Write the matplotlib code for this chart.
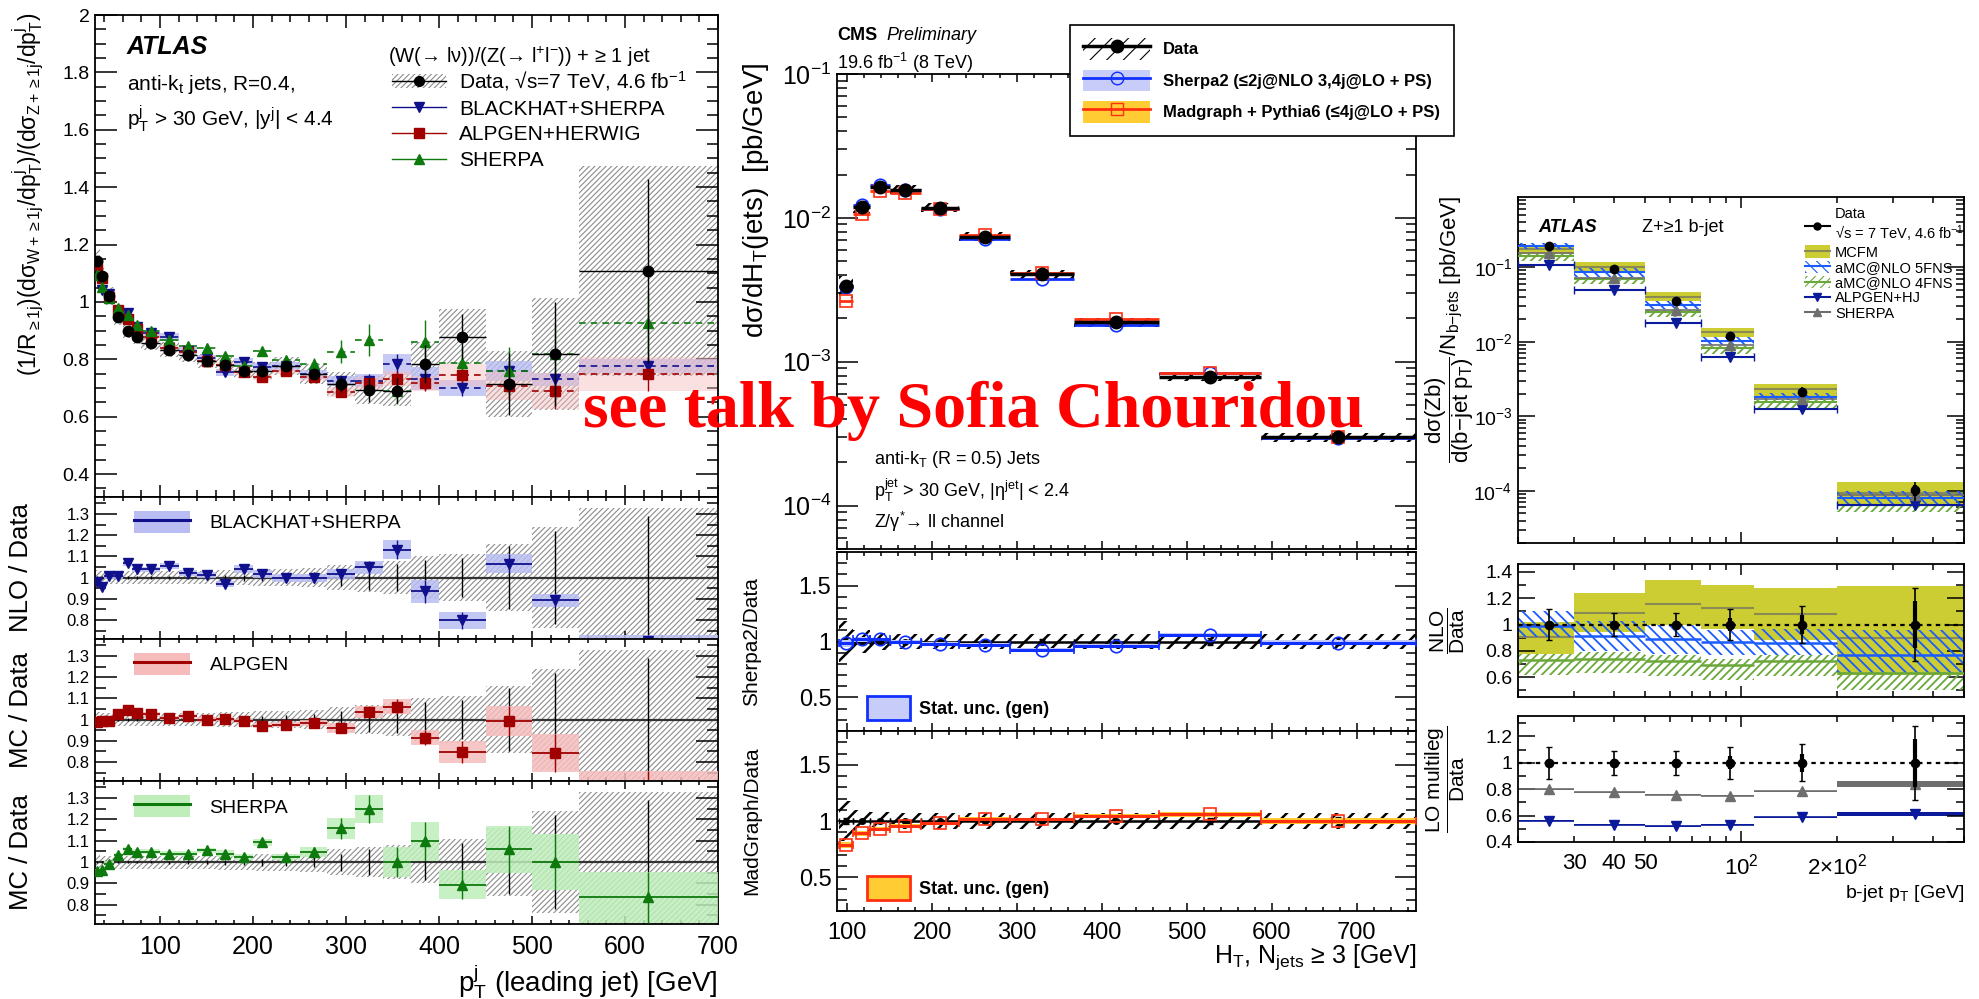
import numpy as np
import matplotlib
matplotlib.use("Agg")
import matplotlib.pyplot as plt
from matplotlib.patches import Patch
from matplotlib.lines import Line2D
from matplotlib.ticker import MultipleLocator, FormatStrFormatter, LogLocator, NullFormatter

plt.rcParams['font.family'] = ['Liberation Sans', 'DejaVu Sans']
plt.rcParams['mathtext.fontset'] = 'custom'
plt.rcParams['mathtext.rm'] = 'Liberation Sans'
plt.rcParams['mathtext.it'] = 'Liberation Sans:italic'
plt.rcParams['mathtext.bf'] = 'Liberation Sans:bold'
plt.rcParams['mathtext.default'] = 'regular'

# ---- W/Z + jets ratio vs leading jet pT ----
w_edges = [30, 35, 40, 50, 60, 70, 80, 100, 120, 140, 160, 180, 200, 220, 250,
           280, 310, 340, 370, 400, 450, 500, 550, 700]
w_data = [1.143, 1.091, 1.021, 0.949, 0.900, 0.879, 0.858, 0.834, 0.814, 0.794, 0.779, 0.760,
          0.760, 0.777, 0.749, 0.714, 0.693, 0.691, 0.783, 0.879, 0.714, 0.818, 1.108]
w_stat = [0.005, 0.005, 0.005, 0.005, 0.005, 0.006, 0.006, 0.007, 0.008, 0.010, 0.012, 0.014,
          0.016, 0.020, 0.025, 0.040, 0.060, 0.065, 0.085, 0.090, 0.150, 0.220, 0.290]
w_sys = [0.035, 0.03, 0.03, 0.03, 0.03, 0.03, 0.03, 0.03, 0.03, 0.03, 0.035, 0.035,
         0.04, 0.04, 0.045, 0.06, 0.07, 0.08, 0.10, 0.11, 0.16, 0.24, 0.33]
bh_main = [1.120, 1.043, 1.026, 0.954, 0.961, 0.914, 0.892, 0.878, 0.830, 0.804, 0.754, 0.790,
           0.772, 0.775, 0.747, 0.725, 0.726, 0.782, 0.732, 0.701, 0.760, 0.730, 0.776]
bh_ratio = [0.980, 0.956, 1.005, 1.005, 1.068, 1.040, 1.040, 1.053, 1.020, 1.013, 0.968, 1.040,
            1.016, 0.997, 0.997, 1.016, 1.048, 1.132, 0.935, 0.798, 1.065, 0.892, 0.700]
bh_unc = [0.01, 0.01, 0.01, 0.01, 0.012, 0.012, 0.012, 0.015, 0.015, 0.015, 0.015, 0.02,
          0.02, 0.02, 0.02, 0.025, 0.03, 0.045, 0.055, 0.04, 0.045, 0.03, 0.03]
alp_main = [1.128, 1.082, 1.016, 0.972, 0.940, 0.906, 0.879, 0.841, 0.827, 0.794, 0.781, 0.754,
            0.738, 0.758, 0.737, 0.685, 0.717, 0.732, 0.716, 0.745, 0.708, 0.689, 0.748]
alp_ratio = [0.987, 0.992, 0.995, 1.024, 1.044, 1.031, 1.024, 1.008, 1.016, 1.000, 1.003, 0.992,
             0.971, 0.976, 0.984, 0.960, 1.035, 1.060, 0.915, 0.847, 0.992, 0.842, 0.675]
alp_unc = [0.01, 0.01, 0.01, 0.01, 0.01, 0.01, 0.01, 0.01, 0.01, 0.01, 0.01, 0.01,
           0.012, 0.012, 0.015, 0.025, 0.03, 0.035, 0.035, 0.05, 0.07, 0.09, 0.08]
sh_main = [1.093, 1.053, 1.013, 0.979, 0.955, 0.921, 0.899, 0.867, 0.847, 0.838, 0.810, 0.778,
           0.830, 0.796, 0.785, 0.827, 0.866, 0.691, 0.859, 0.787, 0.758, 0.818, 0.925]
sh_ratio = [0.956, 0.965, 0.992, 1.032, 1.061, 1.048, 1.048, 1.040, 1.040, 1.056, 1.040, 1.024,
            1.092, 1.024, 1.048, 1.158, 1.250, 1.000, 1.097, 0.895, 1.061, 1.000, 0.835]
sh_unc = [0.012, 0.012, 0.012, 0.012, 0.012, 0.012, 0.012, 0.012, 0.012, 0.012, 0.015, 0.015,
          0.015, 0.015, 0.025, 0.05, 0.065, 0.07, 0.09, 0.07, 0.11, 0.13, 0.12]

# ---- CMS Z + >=3 jets, HT ----
ht_edges = [90, 107, 127, 150, 187, 232, 292, 367, 467, 587, 770]
ht_data = [3.36e-3, 1.20e-2, 1.65e-2, 1.57e-2, 1.18e-2, 7.40e-3, 4.06e-3, 1.89e-3, 7.87e-4, 2.99e-4]
ht_stat = [0.03, 0.02, 0.015, 0.015, 0.015, 0.015, 0.02, 0.02, 0.03, 0.035]
ht_sys = [0.18, 0.10, 0.08, 0.07, 0.07, 0.07, 0.07, 0.07, 0.07, 0.07]
sherpa2_main = [3.31e-3, 1.224e-2, 1.683e-2, 1.57e-2, 1.156e-2, 7.18e-3, 3.76e-3, 1.81e-3, 8.34e-4, 2.96e-4]
madgraph_main = [2.64e-3, 1.068e-2, 1.535e-2, 1.50e-2, 1.156e-2, 7.55e-3, 4.12e-3, 1.975e-3, 8.34e-4, 2.99e-4]
sherpa2_ratio = [0.985, 1.02, 1.02, 1.0, 0.98, 0.97, 0.926, 0.96, 1.06, 0.99]
madgraph_ratio = [0.787, 0.89, 0.93, 0.955, 0.98, 1.02, 1.015, 1.045, 1.06, 1.0]
gen_unc = [0.03, 0.02, 0.015, 0.015, 0.015, 0.015, 0.015, 0.02, 0.02, 0.025]

# ---- ATLAS Z + b-jet, b-jet pT ----
bpt_edges = [20, 30, 50, 75, 110, 200, 500]
zb_data = [0.193, 0.093, 0.0347, 0.0119, 2.14e-3, 1.03e-4]
zb_tot = [0.12, 0.09, 0.09, 0.12, 0.14, 0.28]
zb_stat = [0.02, 0.03, 0.03, 0.05, 0.07, 0.18]
mcfm_main = [0.175, 0.101, 0.0403, 0.0134, 2.31e-3, 9.3e-5]
amc5_main = [0.191, 0.085, 0.0309, 0.0103, 1.84e-3, 7.9e-5]
amc4_main = [0.141, 0.0688, 0.025, 8.2e-3, 1.54e-3, 6.5e-5]
alphj_main = [0.108, 0.0493, 0.018, 6.3e-3, 1.25e-3, 6.4e-5]
shzb_main = [0.154, 0.072, 0.0264, 8.9e-3, 1.68e-3, 8.7e-5]
mcfm_ratio = [0.906, 1.09, 1.16, 1.127, 1.08, 0.90]
mcfm_lo = [0.78, 0.94, 1.0, 0.97, 0.88, 0.62]
mcfm_hi = [1.02, 1.24, 1.34, 1.30, 1.28, 1.29]
amc5_ratio = [0.99, 0.914, 0.89, 0.866, 0.86, 0.77]
amc5_lo = [0.906, 0.80, 0.78, 0.77, 0.77, 0.63]
amc5_hi = [1.10, 1.03, 1.0, 0.96, 0.97, 0.96]
amc4_ratio = [0.73, 0.74, 0.72, 0.69, 0.72, 0.63]
amc4_lo = [0.62, 0.63, 0.61, 0.58, 0.61, 0.50]
amc4_hi = [0.78, 0.79, 0.77, 0.74, 0.77, 0.64]
alphj_ratio = [0.56, 0.53, 0.52, 0.53, 0.586, 0.615]
alphj_unc = [0.004, 0.004, 0.004, 0.004, 0.006, 0.015]
shzb_ratio = [0.80, 0.776, 0.76, 0.75, 0.784, 0.84]
shzb_unc = [0.004, 0.004, 0.004, 0.004, 0.006, 0.022]

W, H = 1979, 999
fig = plt.figure(figsize=(W / 100, H / 100), dpi=100)


def place(x0, y0, x1, y1):
    return fig.add_axes([x0 / W, 1 - y1 / H, (x1 - x0) / W, (y1 - y0) / H])


def root_ticks(ax, ylen=(16, 8), xlen=(8, 4), xsize=18, ysize=14):
    ax.minorticks_on()
    ax.tick_params(which='both', direction='in', top=True, right=True, width=1.1)
    ax.tick_params(axis='y', which='major', length=ylen[0], labelsize=ysize, pad=4)
    ax.tick_params(axis='y', which='minor', length=ylen[1])
    ax.tick_params(axis='x', which='major', length=xlen[0], labelsize=xsize, pad=8)
    ax.tick_params(axis='x', which='minor', length=xlen[1])
    for s in ax.spines.values():
        s.set_linewidth(1.3)


def boxes(ax, edges, lo, hi, **kw):
    e = np.asarray(edges, float)
    lo = np.asarray(lo, float)
    hi = np.asarray(hi, float)
    lw_h = kw.pop('hatch_lw', None)
    bars = ax.bar(e[:-1], hi - lo, bottom=lo, width=np.diff(e), align='edge', **kw)
    if lw_h is not None:
        for p in bars:
            if hasattr(p, 'set_hatch_linewidth'):
                p.set_hatch_linewidth(lw_h)
    return bars


def hatch_patch(color, hatch, lw_h, **kw):
    p = Patch(facecolor=kw.pop('fc', 'none'), edgecolor=color, hatch=hatch, lw=0, **kw)
    if hasattr(p, 'set_hatch_linewidth'):
        p.set_hatch_linewidth(lw_h)
    return p


# ===================== left block =====================
plt.rcParams['hatch.linewidth'] = 0.8
we = np.array(w_edges, float)
wl, wr = we[:-1], we[1:]
wc = (wl + wr) / 2
wd = np.array(w_data)
navy, dred, dgreen = '#10108c', '#a00000', '#0e7a0e'
band_b, band_r, band_g = '#b9bdf2', '#f6bcbc', '#bfeebb'

axL = place(95, 15, 718, 497)
axL1 = place(95, 497, 718, 639)
axL2 = place(95, 639, 718, 781)
axL3 = place(95, 781, 718, 924)

ws = np.array(w_sys)
boxes(axL, w_edges, wd * (1 - ws), wd * (1 + ws), fc='none', ec='#8c8c8c',
      hatch='//////', lw=0, zorder=1, hatch_lw=0.8)
# only the NLO prediction carries a clear band in the top panel
bv, bu = np.array(bh_main), np.array(bh_unc)
boxes(axL, w_edges, bv * (1 - bu), bv * (1 + bu), color=band_b, alpha=0.8, lw=0, zorder=2)
av, au = np.array(alp_main), np.array(alp_unc)
boxes(axL, w_edges, av * (1 - au), av * (1 + au), color=band_r, alpha=0.45, lw=0, zorder=2)
for vals, unc, col, mk in [(bh_main, bh_unc, navy, 'v'),
                           (alp_main, alp_unc, dred, 's'),
                           (sh_main, sh_unc, dgreen, '^')]:
    v = np.array(vals)
    u = np.array(unc)
    axL.hlines(v, wl, wr, colors=col, linestyles=(0, (4, 3)), lw=1.2, zorder=3)
    axL.errorbar(wc, v, yerr=v * u, fmt=mk, color=col, ms=7, lw=1, zorder=4)
axL.errorbar(wc, wd, yerr=wd * np.array(w_stat), xerr=(wr - wl) / 2, fmt='o', color='k',
             ms=7.5, lw=1, zorder=5)
axL.set_xlim(30, 700)
axL.set_ylim(0.32, 2.0)
root_ticks(axL, ylen=(16, 8), xlen=(9, 5))
axL.xaxis.set_major_locator(MultipleLocator(100))
axL.xaxis.set_minor_locator(MultipleLocator(20))
axL.yaxis.set_major_locator(MultipleLocator(0.2))
axL.yaxis.set_minor_locator(MultipleLocator(0.05))
axL.yaxis.set_major_formatter(FormatStrFormatter('%g'))
axL.tick_params(axis='x', labelbottom=False)
axL.set_ylabel(r'$(1/R_{\geq 1j})(d\sigma_{W+\geq 1j}/dp_{T}^{j})/(d\sigma_{Z+\geq 1j}/dp_{T}^{j})$',
               fontsize=16.5)
axL.yaxis.set_label_coords(-0.080, 0.627)

axL.text(0.05, 0.933, 'ATLAS', transform=axL.transAxes, fontsize=18, fontweight='bold',
         fontstyle='italic', va='center')
axL.text(0.051, 0.855, r'anti-k$_{t}$ jets, R=0.4,', transform=axL.transAxes, fontsize=15, va='center')
axL.text(0.051, 0.786, r'p$_{T}^{j}$ > 30 GeV, |y$^{j}$| < 4.4', transform=axL.transAxes,
         fontsize=15, va='center')
axL.text(0.47, 0.913, '(W(\u2192 l\u03bd))/(Z(\u2192 l$^{+}$l$^{-}$)) + \u2265 1 jet',
         transform=axL.transAxes, fontsize=14.5, va='center')
h_data = (hatch_patch('#8c8c8c', '//////', 0.8), Line2D([], [], color='k', marker='o', ms=7, lw=1))
h_bh = Line2D([], [], color=navy, marker='v', ms=7, lw=1)
h_alp = Line2D([], [], color=dred, marker='s', ms=7, lw=1)
h_sh = Line2D([], [], color=dgreen, marker='^', ms=7, lw=1)
axL.legend([h_data, h_bh, h_alp, h_sh],
           ['Data, \u221as=7 TeV, 4.6 fb$^{-1}$', 'BLACKHAT+SHERPA', 'ALPGEN+HERWIG', 'SHERPA'],
           loc='upper left', bbox_to_anchor=(0.477, 0.888), frameon=False, fontsize=15,
           handlelength=2.6, handletextpad=0.6, labelspacing=0.32, borderpad=0, borderaxespad=0)

ratio_sets = [(axL1, bh_ratio, bh_unc, navy, band_b, 'v', 'BLACKHAT+SHERPA', 'NLO / Data'),
              (axL2, alp_ratio, alp_unc, dred, band_r, 's', 'ALPGEN', 'MC / Data'),
              (axL3, sh_ratio, sh_unc, dgreen, band_g, '^', 'SHERPA', 'MC / Data')]
for ax, rat, unc, col, band, mk, lab, ylab in ratio_sets:
    r = np.array(rat)
    u = np.array(unc)
    boxes(ax, w_edges, 1 - ws, 1 + ws, fc='none', ec='#8c8c8c', hatch='//////', lw=0,
          zorder=1, hatch_lw=0.8)
    ax.axhline(1, color='#333333', lw=1.6, zorder=2)
    ax.errorbar(wc, np.ones_like(wc), yerr=w_stat, fmt='none', ecolor='k', lw=1, zorder=2)
    boxes(ax, w_edges, r - u, r + u, color=band, alpha=0.85, lw=0, zorder=3)
    ax.hlines(r, wl, wr, colors=col, lw=1.3, zorder=4)
    ax.errorbar(wc, r, yerr=u, fmt=mk, color=col, ms=7, lw=1, zorder=5)
    ax.set_xlim(30, 700)
    ax.set_ylim(0.71, 1.38)
    root_ticks(ax, ylen=(16, 8), xlen=(6, 3), ysize=12)
    ax.xaxis.set_major_locator(MultipleLocator(100))
    ax.xaxis.set_minor_locator(MultipleLocator(20))
    ax.yaxis.set_major_locator(MultipleLocator(0.1))
    ax.yaxis.set_minor_locator(MultipleLocator(0.05))
    ax.yaxis.set_major_formatter(FormatStrFormatter('%g'))
    ax.set_ylabel(ylab, fontsize=18.5)
    ax.yaxis.set_label_coords(-0.100, 0.5)
    ax.legend([(Patch(fc=band, ec='none'), Line2D([], [], color=col, lw=2.2))], [lab],
              loc='center left', bbox_to_anchor=(0.062, 0.824), frameon=False, fontsize=14,
              handlelength=2.9, handleheight=1.4, handletextpad=1.0, borderpad=0, borderaxespad=0)
axL1.tick_params(axis='x', labelbottom=False)
axL2.tick_params(axis='x', labelbottom=False)
fig.text(718 / W, 1 - 982 / H, r'p$_{T}^{j}$ (leading jet) [GeV]', ha='right', va='center', fontsize=20)

# ===================== middle block =====================
he = np.array(ht_edges, float)
hl, hr = he[:-1], he[1:]
hc = (hl + hr) / 2
hd = np.array(ht_data)
hs = np.array(ht_sys)
blue, orange = '#1030ff', '#ff3010'
band_sb, band_mg = '#c8ccf8', '#ffcc33'

axM = place(837, 74, 1416, 549)
axM1 = place(837, 552, 1416, 731)
axM2 = place(837, 731, 1416, 911)

boxes(axM, ht_edges, hd * (1 - hs), hd * (1 + hs), fc='none', ec='k', hatch='//', lw=0,
      zorder=1, hatch_lw=1.8)
axM.errorbar(hc, sherpa2_main, xerr=(hr - hl) / 2, fmt='o', color=blue, mfc='none', ms=9,
             mew=1.2, lw=2, zorder=3)
axM.errorbar(hc, madgraph_main, xerr=(hr - hl) / 2, fmt='s', color=orange, mfc='none', ms=9,
             mew=1.2, lw=2, zorder=3)
axM.errorbar(hc, hd, yerr=hd * np.array(ht_stat), xerr=(hr - hl) / 2, fmt='o', color='k',
             ms=9, lw=2.5, zorder=4)
axM.set_yscale('log')
axM.set_xlim(88, 770)
axM.set_ylim(5e-5, 0.1)
root_ticks(axM, ylen=(15, 7), xlen=(6, 3), ysize=18)
axM.xaxis.set_major_locator(MultipleLocator(100))
axM.xaxis.set_minor_locator(MultipleLocator(20))
axM.yaxis.set_minor_locator(LogLocator(subs=np.arange(2, 10)))
axM.yaxis.set_minor_formatter(NullFormatter())
axM.tick_params(axis='x', labelbottom=False)
axM.set_ylabel(r'd$\sigma$/dH$_{T}$(jets)  [pb/GeV]', fontsize=20)
axM.yaxis.set_label_coords(-0.114, 0.735)
axM.text(0.064, 0.189, r'anti-k$_{T}$ (R = 0.5) Jets', transform=axM.transAxes, fontsize=13, va='center')
axM.text(0.064, 0.124, r'p$_{T}^{jet}$ > 30 GeV, |$\eta^{jet}$| < 2.4', transform=axM.transAxes,
         fontsize=13, va='center')
axM.text(0.064, 0.057, 'Z/\u03b3$^{*}$\u2192 ll channel', transform=axM.transAxes,
         fontsize=13, va='center')
fig.text(837 / W, 1 - 35 / H, 'CMS', fontsize=13, fontweight='bold', va='center')
fig.text(886 / W, 1 - 35 / H, 'Preliminary', fontsize=13, fontstyle='italic', va='center')
fig.text(837 / W, 1 - 63 / H, r'19.6 fb$^{-1}$ (8 TeV)', fontsize=13, va='center')

h_mdata = (hatch_patch('k', '//', 1.8), Line2D([], [], color='k', marker='o', ms=9, lw=2.5))
h_msh = (Patch(fc=band_sb, ec='none'),
         Line2D([], [], color=blue, marker='o', mfc='none', ms=9, lw=2))
h_mmg = (Patch(fc=band_mg, ec='none'),
         Line2D([], [], color=orange, marker='s', mfc='none', ms=9, lw=2))
leg = fig.legend([h_mdata, h_msh, h_mmg],
                 ['Data', 'Sherpa2 (\u22642j@NLO 3,4j@LO + PS)', 'Madgraph + Pythia6 (\u22644j@LO + PS)'],
                 loc='upper left', bbox_to_anchor=(1070 / W, 1 - 25 / H), frameon=True, fancybox=False,
                 edgecolor='k', framealpha=1, prop={'weight': 'bold', 'size': 12},
                 handlelength=4.0, handleheight=1.6, handletextpad=0.8, labelspacing=0.6,
                 borderpad=0.8, borderaxespad=0)
leg.get_frame().set_linewidth(1.2)

for ax, rat, col, band, mk, ylab in [(axM1, sherpa2_ratio, blue, band_sb, 'o', 'Sherpa2/Data'),
                                     (axM2, madgraph_ratio, orange, band_mg, 's', 'MadGraph/Data')]:
    r = np.array(rat)
    u = np.array(gen_unc)
    boxes(ax, ht_edges, 1 - hs, 1 + hs, fc='none', ec='k', hatch='//', lw=0, zorder=1, hatch_lw=1.8)
    ax.errorbar(hc, np.ones_like(hc), yerr=ht_stat, xerr=(hr - hl) / 2, fmt='o', color='k',
                ms=4, lw=1.8, capsize=2, zorder=2)
    boxes(ax, ht_edges, r - u, r + u, color=band, lw=0, zorder=3)
    ax.errorbar(hc, r, xerr=(hr - hl) / 2, fmt=mk, color=col, mfc='none', ms=9, mew=1.2,
                lw=2.2, capsize=3, zorder=4)
    ax.set_xlim(88, 770)
    ax.set_ylim(0.2, 1.8)
    root_ticks(ax, ylen=(15, 7), xlen=(6, 3), ysize=17, xsize=17)
    ax.xaxis.set_major_locator(MultipleLocator(100))
    ax.xaxis.set_minor_locator(MultipleLocator(20))
    ax.yaxis.set_major_locator(MultipleLocator(0.5))
    ax.yaxis.set_minor_locator(MultipleLocator(0.1))
    ax.yaxis.set_major_formatter(FormatStrFormatter('%g'))
    ax.set_ylabel(ylab, fontsize=15)
    ax.yaxis.set_label_coords(-0.131, 0.5)
    ax.legend([Patch(fc=band, ec=col, lw=2)], ['Stat. unc. (gen)'], loc='center left',
              bbox_to_anchor=(0.052, 0.128), frameon=False, prop={'weight': 'bold', 'size': 13},
              handlelength=2.4, handleheight=1.6, handletextpad=0.5, borderpad=0, borderaxespad=0)
axM1.tick_params(axis='x', labelbottom=False)
fig.text(1416 / W, 1 - 957 / H, 'H$_{T}$, N$_{jets}$ \u2265 3 [GeV]', ha='right', va='center', fontsize=18)

# ===================== right block =====================
be = np.array(bpt_edges, float)
bl, br = be[:-1], be[1:]
bc = (bl + br) / 2
bd = np.array(zb_data)
olive, olive_ln = '#cccc33', '#8a8a55'
amc5c, amc4c, ahj, grey = '#1a5cff', '#6aa83a', '#0a1a9a', '#6e6e6e'

axR = place(1518, 197, 1964, 543)
axR1 = place(1518, 564, 1964, 697)
axR2 = place(1518, 716, 1964, 842)

boxes(axR, bpt_edges, bd * np.array(mcfm_lo), bd * np.array(mcfm_hi), color=olive, lw=0, zorder=1)
axR.hlines(mcfm_main, bl, br, colors=olive_ln, lw=1.5, zorder=2)
boxes(axR, bpt_edges, bd * np.array(amc5_lo), bd * np.array(amc5_hi), fc='none', ec=amc5c,
      hatch='\\\\\\', lw=0, zorder=2, hatch_lw=1.3)
axR.hlines(amc5_main, bl, br, colors=amc5c, lw=1.5, zorder=3)
boxes(axR, bpt_edges, bd * np.array(amc4_lo), bd * np.array(amc4_hi), fc='none', ec=amc4c,
      hatch='////', lw=0, zorder=2, hatch_lw=1.3)
axR.hlines(amc4_main, bl, br, colors=amc4c, lw=1.5, zorder=3)
axR.errorbar(bc, alphj_main, xerr=[bc - bl, br - bc], fmt='v', color=ahj, ms=7, lw=1.5,
             capsize=3, zorder=4)
axR.errorbar(bc, shzb_main, xerr=[bc - bl, br - bc], fmt='^', color=grey, ms=7, lw=1.2, zorder=4)
axR.errorbar(bc, bd, yerr=bd * np.array(zb_tot), fmt='o', color='k', ms=6, lw=1.2, zorder=5)
axR.errorbar(bc, bd, yerr=bd * np.array(zb_stat), fmt='none', ecolor='k', lw=3, zorder=5)
axR.set_xscale('log')
axR.set_yscale('log')
axR.set_xlim(20, 500)
axR.set_ylim(2e-5, 0.87)
root_ticks(axR, ylen=(12, 6), xlen=(8, 4), ysize=14)
axR.yaxis.set_minor_locator(LogLocator(subs=np.arange(2, 10)))
axR.yaxis.set_minor_formatter(NullFormatter())
axR.set_ylabel(r'$\dfrac{d\sigma(Zb)}{d(b\mathrm{-}jet\ p_{T})}/N_{b\mathrm{-}jets}$ [pb/GeV]', fontsize=16)
axR.yaxis.set_label_coords(-0.094, 0.616)
axR.text(0.045, 0.913, 'ATLAS', transform=axR.transAxes, fontsize=13, fontweight='bold',
         fontstyle='italic', va='center')
axR.text(0.278, 0.913, 'Z+\u22651 b-jet', transform=axR.transAxes, fontsize=13, va='center')

h_zdata = Line2D([], [], color='k', marker='o', ms=5, lw=1.5)
h_mcfm = (Patch(fc=olive, ec='none'), Line2D([], [], color=olive_ln, lw=1.5))
h_a5 = (hatch_patch(amc5c, '\\\\\\', 1.3), Line2D([], [], color=amc5c, lw=1.5))
h_a4 = (hatch_patch(amc4c, '////', 1.3), Line2D([], [], color=amc4c, lw=1.5))
h_ahj = Line2D([], [], color=ahj, marker='v', ms=6, lw=1.5)
h_shz = Line2D([], [], color=grey, marker='^', ms=6, lw=1.5)
axR.legend([h_zdata, h_mcfm, h_a5, h_a4, h_ahj, h_shz],
           ['Data\n\u221as = 7 TeV, 4.6 fb$^{-1}$', 'MCFM', 'aMC@NLO 5FNS',
            'aMC@NLO 4FNS', 'ALPGEN+HJ', 'SHERPA'],
           loc='upper left', bbox_to_anchor=(1805 / W, 1 - 207 / H), bbox_transform=fig.transFigure,
           frameon=False, fontsize=10.5, handlelength=1.7, handleheight=0.9, handletextpad=0.35,
           labelspacing=0.08, borderpad=0, borderaxespad=0)

dotted = (0, (2, 2))
boxes(axR1, bpt_edges, mcfm_lo, mcfm_hi, color=olive, lw=0, zorder=1)
axR1.hlines(mcfm_ratio, bl, br, colors=olive_ln, lw=1.5, zorder=2)
boxes(axR1, bpt_edges, amc5_lo, amc5_hi, fc='none', ec=amc5c, hatch='\\\\\\', lw=0, zorder=2, hatch_lw=1.3)
axR1.hlines(amc5_ratio, bl, br, colors=amc5c, lw=1.8, zorder=3)
boxes(axR1, bpt_edges, amc4_lo, amc4_hi, fc='none', ec=amc4c, hatch='////', lw=0, zorder=2, hatch_lw=1.3)
axR1.hlines(amc4_ratio, bl, br, colors=amc4c, lw=1.8, zorder=3)

boxes(axR2, bpt_edges, np.array(shzb_ratio) - np.array(shzb_unc),
      np.array(shzb_ratio) + np.array(shzb_unc), color=grey, lw=0, zorder=1)
axR2.hlines(shzb_ratio, bl, br, colors=grey, lw=1.2, zorder=2)
axR2.plot(bc, shzb_ratio, '^', color=grey, ms=7, zorder=3)
boxes(axR2, bpt_edges, np.array(alphj_ratio) - np.array(alphj_unc),
      np.array(alphj_ratio) + np.array(alphj_unc), color=ahj, lw=0, zorder=1)
axR2.hlines(alphj_ratio, bl, br, colors=ahj, lw=1.2, zorder=2)
axR2.plot(bc, alphj_ratio, 'v', color=ahj, ms=7, zorder=3)

for ax, ylim, ylab in [(axR1, (0.45, 1.46), r'$\dfrac{NLO}{Data}$'),
                       (axR2, (0.4, 1.355), r'$\dfrac{LO\ multileg}{Data}$')]:
    ax.axhline(1, color='k', ls=dotted, lw=1.6, zorder=4)
    ax.errorbar(bc, np.ones_like(bc), yerr=zb_tot, fmt='o', color='k', ms=6, lw=1.2, capsize=2, zorder=5)
    ax.errorbar(bc, np.ones_like(bc), yerr=zb_stat, fmt='none', ecolor='k', lw=3, zorder=5)
    ax.set_xscale('log')
    ax.set_xlim(20, 500)
    ax.set_ylim(*ylim)
    root_ticks(ax, ylen=(12, 6), xlen=(8, 4), ysize=14, xsize=16)
    ax.yaxis.set_major_locator(MultipleLocator(0.2))
    ax.yaxis.set_minor_locator(MultipleLocator(0.1))
    ax.yaxis.set_major_formatter(FormatStrFormatter('%g'))
    ax.set_ylabel(ylab, fontsize=15)
    ax.yaxis.set_label_coords(-0.115, 0.5)

minor_b = [20, 30, 40, 50, 60, 70, 80, 90, 200, 300, 400, 500]
minor_lab = ['', '30', '40', '50', '', '', '', '', r'2$\times$10$^{2}$', '', '', '']
for ax in (axR, axR1, axR2):
    ax.set_xticks([100])
    ax.set_xticks(minor_b, minor=True)
    ax.tick_params(axis='x', which='both', labelbottom=False)
axR2.set_xticks([100], labels=[r'10$^{2}$'])
axR2.set_xticks(minor_b, labels=minor_lab, minor=True)
axR2.tick_params(axis='x', which='both', labelbottom=True, labelsize=16, pad=8)
fig.text(1964 / W, 1 - 893 / H, r'b-jet p$_{T}$ [GeV]', ha='right', va='center', fontsize=14)

# talk reference across the middle of the page
fig.text(973 / W, 1 - 427 / H, 'see talk by Sofia Chouridou', color='red', fontsize=47.5,
         fontweight='bold', family='Liberation Serif', ha='center', va='baseline', zorder=10)

fig.savefig('out.png', dpi=100)
